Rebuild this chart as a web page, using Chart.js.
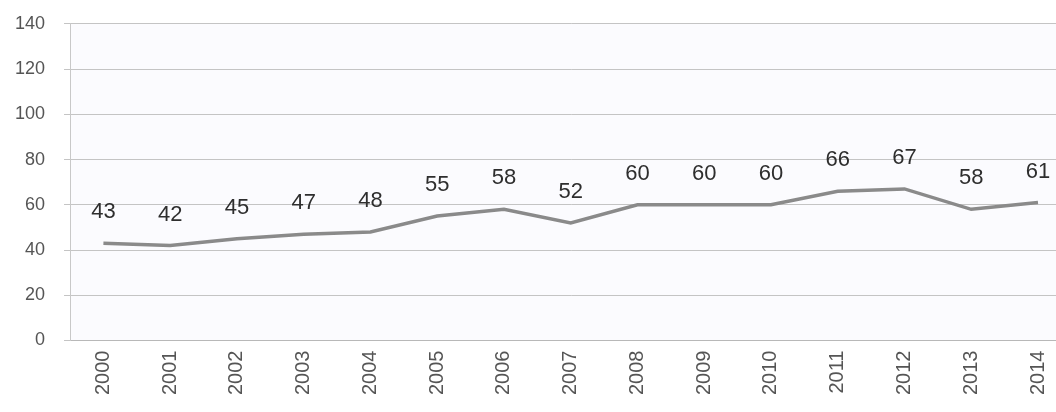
<!DOCTYPE html>
<html>
<head>
<meta charset="utf-8">
<script src="https://cdn.jsdelivr.net/npm/chart.js@4.4.1/dist/chart.umd.min.js"></script>
<style>
    html, body { margin: 0; padding: 0; background: #ffffff; overflow: hidden; }
    #wrap { width: 1076px; height: 417px; position: relative; left: -4px; top: -6px; }
</style>
</head>
<body>
<div id="wrap"><canvas id="chartJaren"></canvas></div>
<script>
const jaren = ['2000', '2001', '2002', '2003', '2004', '2005', '2006', '2007',
    '2008', '2009', '2010', '2011', '2012', '2013', '2014'];
const waarden = [43, 42, 45, 47, 48, 55, 58, 52, 60, 60, 60, 66, 67, 58, 61];
const yMin = 0;
const yMax = 140;
const yStap = 20;

// labels boven de punten, zelf getekend (geen datalabels plugin beschikbaar)
const waardeLabels = {
    id: 'waardeLabels',
    afterDatasetsDraw(chart) {
        const ctx = chart.ctx;
        const meta = chart.getDatasetMeta(0);
        ctx.save();
        ctx.font = '22px "Liberation Sans", Arial, sans-serif';
        ctx.fillStyle = '#2e2e2e';
        ctx.textAlign = 'center';
        ctx.textBaseline = 'middle';
        meta.data.forEach(function (punt, i) {
            ctx.fillText(String(waarden[i]), punt.x, punt.y - 31);
        });
        ctx.restore();
    }
};

const achtergrond = {
    id: 'achtergrond',
    beforeDraw(chart) {
        const {ctx, chartArea} = chart;
        ctx.save();
        ctx.fillStyle = '#fbfbfe';
        ctx.fillRect(chartArea.left, chartArea.top, chartArea.right - chartArea.left, chartArea.bottom - chartArea.top);
        ctx.restore();
    }
};

const ctx = document.getElementById('chartJaren').getContext('2d');
const chartJaren = new Chart(ctx, {
    type: 'line',
    data: {
        labels: jaren,
        datasets: [
            {
                label: 'Waarde',
                data: waarden,
                borderColor: '#8a8a8a',
                borderWidth: 3.5,
                pointRadius: 0,
                tension: 0,
                fill: false
            }
        ]
    },
    options: {
        animation: false,
        responsive: true,
        maintainAspectRatio: false,
        layout: {
            padding: {top: 0, left: 0, right: 0, bottom: 6}
        },
        scales: {
            x: {
                offset: true,
                grid: {display: false, drawTicks: false},
                border: {display: true, color: '#b8b8b8', width: 1},
                ticks: {
                    minRotation: 90,
                    maxRotation: 90,
                    padding: 10,
                    color: '#555555',
                    font: {family: '"Liberation Sans", Arial, sans-serif', size: 20}
                }
            },
            y: {
                min: yMin,
                max: yMax,
                grid: {color: '#c4c4c4', tickLength: 6},
                border: {display: true, color: '#c8c8c8', width: 1},
                ticks: {
                    stepSize: yStap,
                    padding: 19,
                    color: '#555555',
                    font: {family: '"Liberation Sans", Arial, sans-serif', size: 18}
                }
            }
        },
        plugins: {
            legend: {display: false},
            tooltip: {enabled: false}
        }
    },
    plugins: [achtergrond, waardeLabels]
});
</script>
</body>
</html>
